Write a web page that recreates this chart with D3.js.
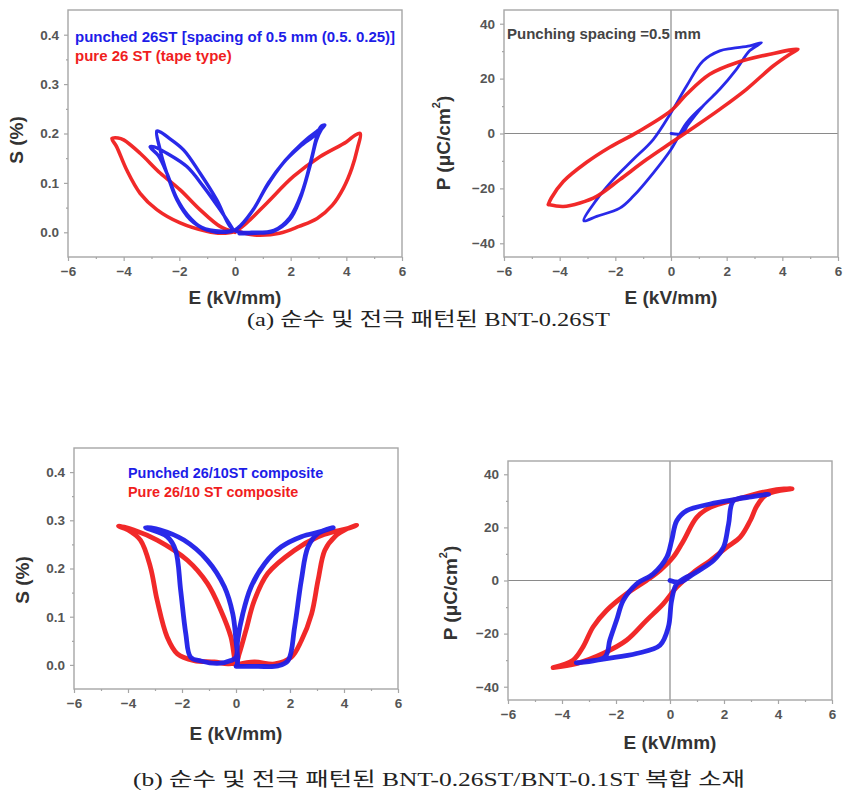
<!DOCTYPE html>
<html><head><meta charset="utf-8">
<script src="https://cdn.jsdelivr.net/npm/d3@7"></script>
<style>
html,body{margin:0;padding:0;background:#fff;}
svg{display:block;}
.tick text{font-family:"Liberation Sans",Arial,sans-serif;font-weight:bold;font-size:13.5px;fill:#555;}
</style></head>
<body>
<svg id="c" width="853" height="799"></svg>
<script>
// ---------- data ----------
const E_TICKS = [-6, -4, -2, 0, 2, 4, 6];
const E_MINOR = [-5, -3, -1, 1, 3, 5];
const S_TICKS = [0.0, 0.1, 0.2, 0.3, 0.4];
const S_MINOR = [-0.05, 0.05, 0.15, 0.25, 0.35, 0.45];
const P_TICKS = [-40, -20, 0, 20, 40];
const P_MINOR = [-30, -10, 10, 30];

const legendA = ["punched 26ST [spacing of 0.5 mm (0.5. 0.25)]", "pure 26 ST (tape type)"];
const legendB = ["Punched 26/10ST composite", "Pure 26/10 ST composite"];
const noteA2 = "Punching spacing =0.5 mm";
const captionA = "(a) 순수 및 전극 패턴된 BNT-0.26ST";
const captionB = "(b) 순수 및 전극 패턴된 BNT-0.26ST/BNT-0.1ST 복합 소재";

// (a) strain, pure 26ST  [E kV/mm, S %]
const pureA_S = [[0.1,0.003],[0.5,-0.004],[0.9,-0.006],[1.6,-0.002],[2.3,0.012],[2.95,0.028],[3.5,0.055],[3.9,0.09],[4.2,0.13],[4.4,0.17],[4.5,0.2],
 [4.3,0.196],[4.0,0.183],[3.05,0.153],[2.1,0.113],[1.14,0.059],[0.42,0.019],[0.0,0.002],
 [-0.5,-0.002],[-1.02,0.002],[-1.97,0.019],[-2.81,0.046],[-3.41,0.079],[-3.89,0.126],[-4.25,0.173],[-4.42,0.19],
 [-4.2,0.191],[-4.0,0.187],[-3.41,0.16],[-2.69,0.12],[-1.97,0.086],[-1.26,0.046],[-0.54,0.012],[0.0,0.0]];
// (a) strain, punched 26ST
const punchedA_S = [[0.15,-0.003],[0.7,-0.002],[1.38,0.002],[1.97,0.026],[2.33,0.066],[2.69,0.133],[2.93,0.187],[3.1,0.208],[3.23,0.217],
 [3.1,0.215],[2.93,0.2],[2.33,0.173],[1.73,0.14],[1.14,0.093],[0.66,0.046],[0.18,0.012],[0.0,0.004],
 [-0.3,0.0],[-1.02,0.005],[-1.61,0.026],[-2.09,0.066],[-2.45,0.12],[-2.69,0.167],[-2.81,0.205],
 [-2.68,0.203],[-2.45,0.194],[-1.85,0.167],[-1.26,0.12],[-0.66,0.066],[-0.18,0.012],[0.05,0.002],
 [0.6,0.0],[1.4,0.004],[1.97,0.03],[2.4,0.08],[2.75,0.15],[2.95,0.195],[3.1,0.21],
 [2.95,0.205],[2.4,0.18],[1.8,0.145],[1.2,0.1],[0.7,0.05],[0.2,0.014],[0.0,0.005],
 [-0.5,0.002],[-1.2,0.01],[-1.7,0.035],[-2.1,0.07],[-2.45,0.12],[-2.75,0.155],[-3.05,0.173],
 [-2.9,0.173],[-2.45,0.16],[-1.73,0.133],[-1.14,0.093],[-0.54,0.046],[-0.06,0.005]];
// (a) polarization [E kV/mm, P uC/cm2]
const pureA_P = [[-4.41,-25.9],[-3.87,-26.6],[-3.27,-25.3],[-2.67,-22.9],[-1.84,-16.8],[-0.88,-9.5],[0.0,-3.4],[0.8,2.1],[1.75,8.8],[2.71,16.1],[3.67,24.6],[4.27,28.9],[4.56,30.7],
 [3.55,28.9],[2.35,25.8],[1.39,21.6],[0.56,14.3],[0.0,8.3],[-1.2,0.5],[-2.2,-5.0],[-3.03,-10.5],[-3.87,-17.5],[-4.3,-23.5],[-4.41,-25.9]];
const punchedA_P = [[0.0,0.0],[0.4,0.0],[0.6,3.0],[1.15,10.0],[1.75,16.1],[2.35,23.4],[2.83,30.2],[3.25,33.1],
 [2.83,31.9],[2.2,31.0],[1.75,30.1],[1.15,26.4],[0.56,17.3],[0.0,7.6],[-0.64,-2.2],[-1.36,-9.5],[-2.08,-16.8],[-2.67,-24.1],[-3.13,-31.8],
 [-2.67,-30.2],[-1.84,-27.2],[-1.36,-22.9],[-0.64,-14.4],[0.0,-5.8],[0.56,3.9],[1.15,10.0]];
// (b) strain, composite
const pureB_S = [[0.0,0.0],[0.68,0.006],[1.43,0.002],[2.05,0.016],[2.42,0.05],[2.8,0.106],[3.04,0.176],[3.29,0.238],[3.66,0.266],[4.1,0.282],[4.47,0.29],
 [4.2,0.284],[3.66,0.277],[3.04,0.266],[2.17,0.238],[1.18,0.19],[0.68,0.134],[0.37,0.072],[0.12,0.023],[0.0,0.005],
 [-0.3,0.002],[-0.81,0.006],[-1.55,0.009],[-2.17,0.023],[-2.55,0.058],[-2.92,0.134],[-3.17,0.203],[-3.54,0.259],[-4.0,0.28],[-4.35,0.288],
 [-3.79,0.28],[-2.92,0.259],[-1.8,0.217],[-1.06,0.169],[-0.56,0.113],[-0.19,0.058],[-0.06,0.016],[0.0,0.0]];
const punchedB_S = [[0.0,-0.003],[0.8,-0.003],[1.55,-0.002],[1.93,0.009],[2.17,0.078],[2.42,0.176],[2.67,0.245],[3.04,0.273],[3.6,0.285],
 [3.17,0.277],[2.42,0.266],[1.68,0.245],[1.06,0.21],[0.56,0.162],[0.25,0.106],[0.06,0.051],[0.0,0.016],
 [-0.19,0.009],[-0.68,0.003],[-1.3,0.008],[-1.68,0.016],[-1.86,0.065],[-2.05,0.155],[-2.24,0.238],[-2.55,0.266],[-3.35,0.285],
 [-2.8,0.28],[-1.93,0.259],[-1.06,0.217],[-0.43,0.162],[-0.12,0.106],[0.0,0.051],[0.06,0.016],[0.05,0.0]];
// (b) polarization, composite
const pureB_P = [[-4.33,-32.8],[-3.47,-31.3],[-2.48,-27.5],[-1.61,-22.5],[-0.87,-15.0],[-0.25,-8.8],[0.25,-2.5],[0.87,3.1],[1.49,7.5],[2.1,12.5],[2.6,16.3],[2.97,22.5],[3.22,28.1],[3.59,32.5],[4.52,34.6],
 [3.71,33.8],[2.48,30.6],[1.49,27.5],[0.99,23.8],[0.5,15.0],[0.12,8.8],[-0.37,3.8],[-0.87,0.0],[-1.61,-5.0],[-2.35,-11.3],[-2.85,-17.5],[-3.22,-25.0],[-3.59,-30.0],[-4.33,-32.8]];
const punchedB_P = [[0.0,0.0],[0.37,-0.6],[0.87,2.5],[1.61,7.5],[1.98,12.5],[2.17,21.3],[2.35,30.0],[3.0,31.5],[3.65,32.5],
 [2.48,30.6],[1.49,28.8],[0.62,26.3],[0.25,22.5],[0.06,15.0],[-0.12,8.8],[-0.62,2.5],[-1.24,-1.3],[-1.73,-7.5],[-1.98,-15.0],[-2.23,-22.5],[-2.41,-28.8],[-3.47,-31.0],
 [-2.35,-29.4],[-1.24,-27.5],[-0.37,-24.4],[-0.06,-17.5],[0.06,-7.5],[0.25,-1.3],[0.87,2.5]];

// ---------- drawing ----------
const BLUE = "#1d1de8", RED = "#f01e1e", AXIS = "#a6a6a6";
const svg = d3.select("#c");
svg.append("rect").attr("width",853).attr("height",799).attr("fill","#fff");

function panel(o){
  const x = d3.scaleLinear().domain([-6,6]).range([o.x0,o.x1]);
  const y = d3.scaleLinear().domain(o.yDom).range([o.y1,o.y0]);
  const g = svg.append("g");
  if (o.cross){
    g.append("line").attr("x1",x(0)).attr("x2",x(0)).attr("y1",o.y0).attr("y2",o.y1).attr("stroke","#8a8a8a").attr("stroke-width",1.2);
    g.append("line").attr("x1",o.x0).attr("x2",o.x1).attr("y1",y(0)).attr("y2",y(0)).attr("stroke","#8a8a8a").attr("stroke-width",1.2);
  }
  const ax = (sel)=>{sel.select(".domain").remove(); sel.selectAll(".tick line").attr("stroke",AXIS).attr("stroke-width",1.2);};
  g.append("g").attr("transform",`translate(0,${o.y1})`).call(d3.axisBottom(x).tickValues(E_TICKS).tickSize(4).tickPadding(5).tickFormat(d3.format("d"))).call(ax);
  g.append("g").attr("transform",`translate(0,${o.y1})`).call(d3.axisBottom(x).tickValues(E_MINOR).tickSize(2).tickFormat("")).call(ax);
  g.append("g").attr("transform",`translate(${o.x0},0)`).call(d3.axisLeft(y).tickValues(o.yTicks).tickSize(4).tickPadding(5).tickFormat(o.fmt)).call(ax);
  g.append("g").attr("transform",`translate(${o.x0},0)`).call(d3.axisLeft(y).tickValues(o.yMinor.filter(v=>v>o.yDom[0]&&v<o.yDom[1])).tickSize(2).tickFormat("")).call(ax);
  g.append("rect").attr("x",o.x0).attr("y",o.y0).attr("width",o.x1-o.x0).attr("height",o.y1-o.y0)
    .attr("fill","none").attr("stroke",AXIS).attr("stroke-width",1.4);
  const line = d3.line().x(d=>x(d[0])).y(d=>y(d[1])).curve(d3.curveCatmullRom.alpha(0.5));
  o.series.forEach(s=>{
    g.append("path").datum(s.data).attr("d",line).attr("fill","none").attr("stroke",s.color)
      .attr("stroke-width",s.w).attr("stroke-linejoin","round").attr("stroke-linecap","round").attr("stroke-opacity",0.95);
  });
  // axis titles
  g.append("text").attr("x",(o.x0+o.x1)/2).attr("y",o.xtY).attr("text-anchor","middle").attr("dominant-baseline","central")
    .style("font-family","Liberation Sans, Arial, sans-serif").style("font-weight","bold").style("font-size","19px").attr("fill","#333").text("E (kV/mm)");
  const yt = g.append("text").attr("transform",`translate(${o.ytX},${o.ytY}) rotate(-90)`).attr("text-anchor","middle").attr("dominant-baseline","central")
    .style("font-family","Liberation Sans, Arial, sans-serif").style("font-weight","bold").style("font-size","19px").attr("fill","#333");
  if (o.ylabel==="P"){
    yt.append("tspan").text("P (\u03bcC/cm");
    yt.append("tspan").attr("dy",-7).style("font-size","11px").text("2");
    yt.append("tspan").attr("dy",7).text(")");
  } else yt.text("S (%)");
  return {x,y,g};
}

const f1 = d3.format(".1f"), fd = d3.format("d");
const pA1 = panel({x0:68,x1:402,y0:10,y1:257,yDom:[-0.05,0.45],yTicks:S_TICKS,yMinor:S_MINOR,fmt:f1,xtY:297,ytX:16,ytY:140,ylabel:"S",
  series:[{data:pureA_S,color:RED,w:3.6},{data:punchedA_S,color:BLUE,w:3.4}]});
const pA2 = panel({x0:504,x1:838,y0:10,y1:257,yDom:[-45,45],yTicks:P_TICKS,yMinor:P_MINOR,fmt:fd,xtY:297,ytX:443,ytY:143,ylabel:"P",cross:true,
  series:[{data:punchedA_P,color:BLUE,w:2.8},{data:pureA_P,color:RED,w:3.6}]});
const pB1 = panel({x0:74,x1:398,y0:448,y1:689,yDom:[-0.05,0.45],yTicks:S_TICKS,yMinor:S_MINOR,fmt:f1,xtY:733,ytX:22,ytY:580,ylabel:"S",
  series:[{data:pureB_S,color:RED,w:4.8},{data:punchedB_S,color:BLUE,w:4.8}]});
const pB2 = panel({x0:508,x1:832,y0:461,y1:700,yDom:[-45,45],yTicks:P_TICKS,yMinor:P_MINOR,fmt:fd,xtY:742,ytX:450,ytY:593,ylabel:"P",cross:true,
  series:[{data:pureB_P,color:RED,w:4.8},{data:punchedB_P,color:BLUE,w:4.8}]});

// legends / notes
const lf = "Liberation Sans, Arial, sans-serif";
pA1.g.append("text").attr("x",75).attr("y",42).style("font-family",lf).style("font-weight","bold").style("font-size","15px").attr("fill",BLUE).text(legendA[0]);
pA1.g.append("text").attr("x",75).attr("y",61).style("font-family",lf).style("font-weight","bold").style("font-size","15px").attr("fill",RED).text(legendA[1]);
pA2.g.append("text").attr("x",507).attr("y",39).style("font-family",lf).style("font-weight","bold").style("font-size","15px").attr("fill","#444").text(noteA2);
pB1.g.append("text").attr("x",128).attr("y",478).style("font-family",lf).style("font-weight","bold").style("font-size","14.4px").attr("fill",BLUE).text(legendB[0]);
pB1.g.append("text").attr("x",128).attr("y",497).style("font-family",lf).style("font-weight","bold").style("font-size","14.4px").attr("fill",RED).text(legendB[1]);

// captions
const cf = "Liberation Serif, 'Noto Sans CJK KR', serif";
svg.append("text").attr("x",247).attr("y",326).attr("textLength",363).attr("lengthAdjust","spacingAndGlyphs")
  .style("font-family",cf).style("font-size","19px").attr("fill","#222").text(captionA);
svg.append("text").attr("x",133).attr("y",786).attr("textLength",612).attr("lengthAdjust","spacingAndGlyphs")
  .style("font-family",cf).style("font-size","19px").attr("fill","#222").text(captionB);
</script>
</body></html>
